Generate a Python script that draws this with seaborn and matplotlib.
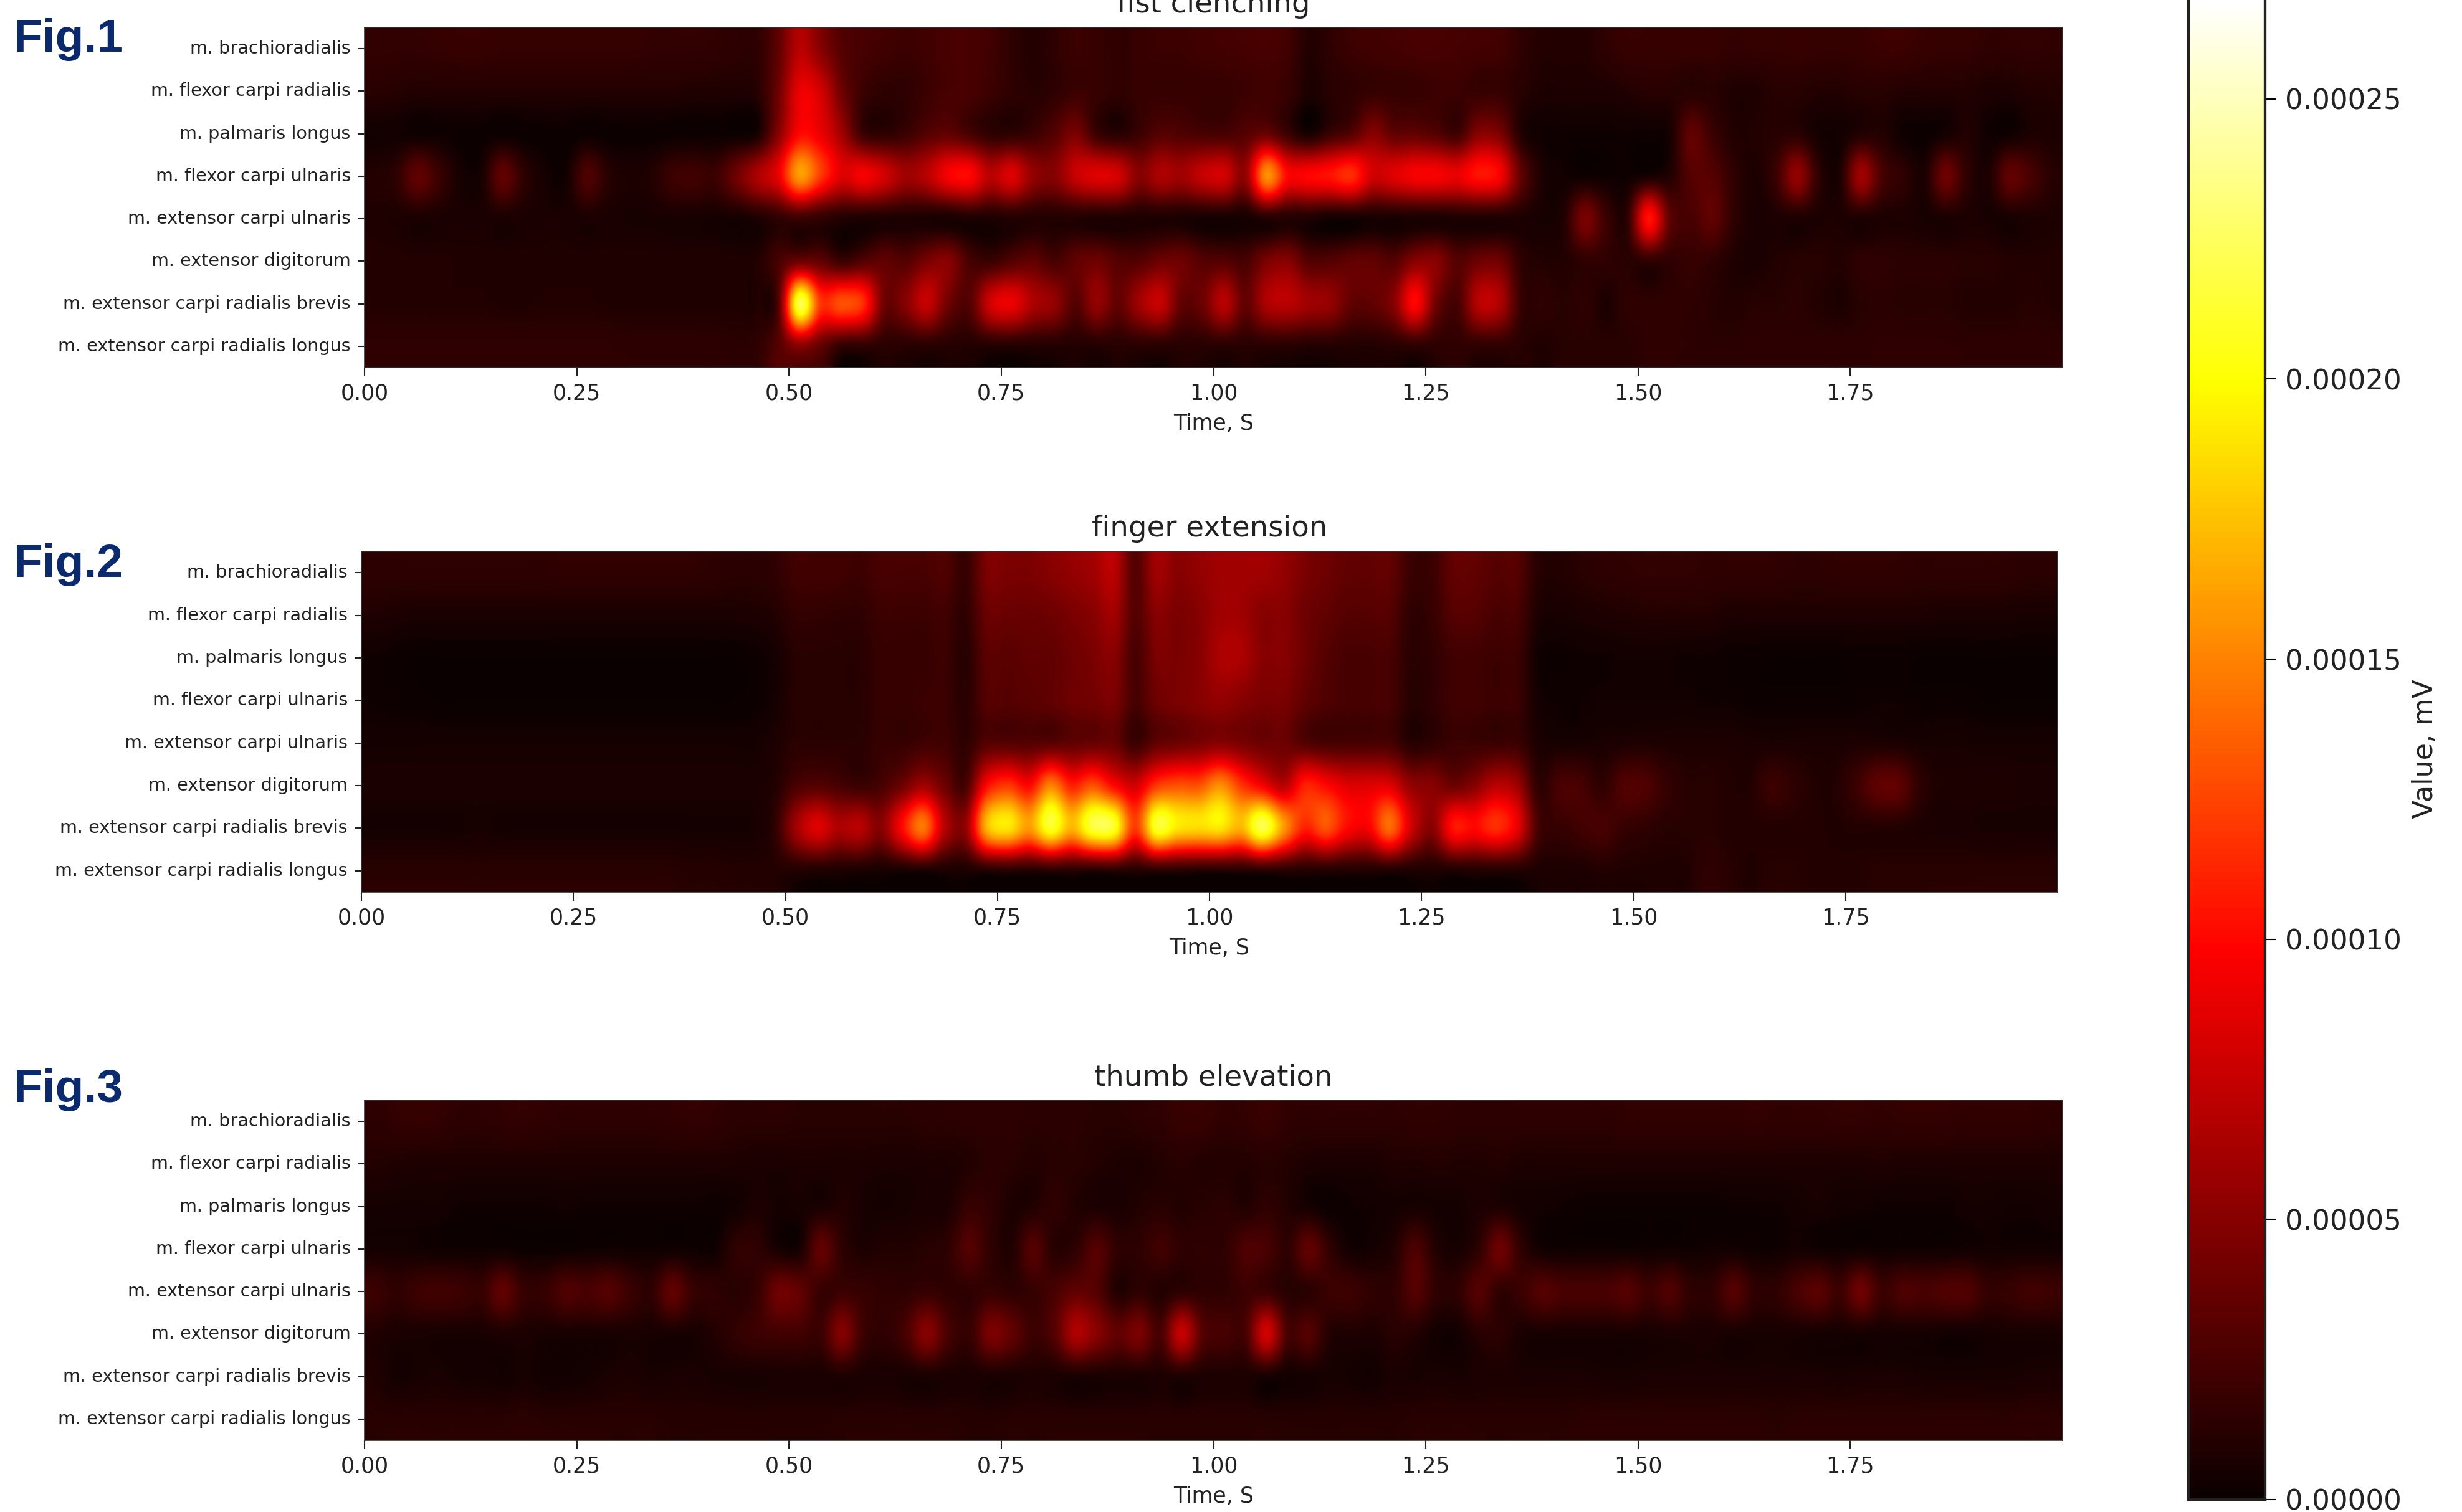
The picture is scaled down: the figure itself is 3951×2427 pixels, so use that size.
import numpy as np
import pandas as pd
import matplotlib
matplotlib.use("Agg")
import matplotlib.pyplot as plt
import seaborn as sns

W, H = 3951, 2427
UNIT = 1e-5  # values below are written in units of 1e-5 mV
VMAX = 26.8
muscles = ["m. brachioradialis", "m. flexor carpi radialis", "m. palmaris longus",
           "m. flexor carpi ulnaris", "m. extensor carpi ulnaris", "m. extensor digitorum",
           "m. extensor carpi radialis brevis", "m. extensor carpi radialis longus"]
time_ticks = ["0.00", "0.25", "0.50", "0.75", "1.00", "1.25", "1.50", "1.75"]
cbar_ticks = [0.00000, 0.00005, 0.00010, 0.00015, 0.00020, 0.00025]
cbar_labels = ["0.00000", "0.00005", "0.00010", "0.00015", "0.00020", "0.00025"]
titles = ["fist clenching", "finger extension", "thumb elevation"]
fig_labels = ["Fig.1", "Fig.2", "Fig.3"]

fist = [
 [1.6,1.6,1.6,1.7,1.8,1.8,1.7,1.7,1.7,1.7, 1.7,1.7,1.7,1.6,1.6,1.6,1.5,1.4,1.5,3.5, 7,5,3,2.5,2.2,2,2.2,2.5,2.5,2.2, 1.5,1,1.5,2,1.8,1.5,1.8,2,2,2.2, 2.3,2.4,2.5,2.2,1,1.5,2,2.2,2.3,2.5, 2.5,2.4,2.3,2.2,1.5,1,1,1,1.5,1.8, 1.8,1.8,1.8,1.8,1.6,1.7,1.7,1.8,1.7,1.7, 1.8,2,2,1.8,1.7,1.7,1.5,1.5,1.6,1.5],
 [1.2,1.1,1,1,1,1,1,1,1,1, 1,1,1,1,1,.9,.9,.9,1.2,4, 9,8,4,2,1.5,1.5,2,2.5,2.5,2, 1.5,1.2,1.5,2,1.8,1.5,1.8,1.8,1.8,1.8, 1.8,2,2.2,1.8,.8,1.2,1.5,1.8,1.8,1.8, 2,2,1.8,1.8,1.2,.8,.8,.8,.8,1, 1.2,1.2,1.2,1.2,.9,.9,1.2,1.2,1,1, 1.2,1.2,1,1,1,1,.8,.8,1,1],
 [.4,.4,.3,.3,.2,.2,.2,.2,.2,.2, .2,.2,.2,.2,.2,.2,.2,.2,.6,5, 10,9,6,2,1.5,2,3,3.5,2.5,1.5, 1.5,2,3,4.5,2,1.2,2,3,2.8,2.5, 2.5,3,3.8,2,.6,2,3,5,3.5,3.5, 3,2.2,5,4.5,1,.3,.3,.3,.3,.3, .3,.6,3.5,2,1,1,1.2,1.3,.5,.4, 1,1,.3,.2,.5,1,.3,.3,.8,.8],
 [1,1.5,3.5,2,.6,.6,3.5,1.5,.5,.4, 2.8,1.2,.8,1,2,2.2,2,4,6.5,9, 16,12,8.5,9.5,8,6,7,9.5,10,7, 8.5,5.5,5,7.5,8.5,8,5,6.5,6,7.5, 8,5.5,15.5,10,10,10.5,11.5,8,8.5,9.5, 9.5,9,10.5,9.5,3.5,.8,.4,.3,.3,.3, .6,1,3,3,1.5,.8,2,5.5,1.5,.8, 6,2.5,1.5,.8,4,1.5,.8,3.5,2.5,1.2],
 [.9,.8,.7,.7,.7,.7,.7,.7,.7,.7, .7,.7,.6,.6,.6,.6,.5,.5,.8,1.5, 2,1.5,1,.8,.8,.8,.7,.6,.8,.8, 1,1,1,1,.8,.8,.8,.8,.7,.5, .5,.5,1,1,.8,.4,.4,.6,.6,.7, .7,.8,.8,.8,.8,.6,1,4.5,2,1.5, 10.5,3.5,2.5,3.5,1.5,.7,.8,.8,.8,.8, .8,.8,.8,.6,.7,.8,.6,.6,.8,.8],
 [1,1,1,1,.9,.9,.9,.9,.9,.9, .9,.9,.9,.9,.9,.9,.9,.9,1,2.5, 4,3.5,2,3,3.5,3,4.5,5,2.5,2, 3,3.5,2.5,3.5,4,3,3,4,4,3, 3,2.5,4.5,5,3,3,3.5,3.5,3,5, 5,3,4,4,1.5,1,1,1.5,1.5,1.2, 1.5,1.5,1.8,1.5,.9,.7,1,1.2,1.2,1, 1.5,1.5,1.3,1.3,1.3,1.2,1.2,1,1,1],
 [1,1,1,1,1,1,.9,.9,1,1, 1,.9,.9,.9,.9,.9,.9,.9,1,3, 22,12,13,11.5,4,5,7.5,4,3,8, 9,6.5,5.5,3,5.5,3.5,6,7.5,3.5,4, 7,3.5,6.5,7,6,5.5,3.5,3.5,5,10, 4,2.5,7,6.5,1.8,1.5,1.2,1.5,.8,1.5, 1.5,1.5,1.5,1.2,1,1.2,1.2,1.3,1,.8, 1.2,1.3,1.2,1.2,1.2,1,1,1,1.2,1],
 [1.5,1.5,1.5,1.5,1.5,1.5,1.5,1.5,1.5,1.5, 1.5,1.5,1.4,1.4,1.4,1.4,1.4,1.3,1.5,3, 5,3.5,1.6,1.5,1.3,1.2,1.2,1.1,1,1, 1,1,1,1,1,1.2,1.2,1.2,1.2,1.2, 1.2,1.2,1.2,1.2,1,1,1,1,1.2,1.4, 1.4,1.5,1.5,1.5,1.2,.9,1.2,1.2,1.2,1.2, 1.5,1.5,1.4,1.3,1.3,1.4,1.4,1.4,1.4,1.4, 1.4,1.5,1.5,1.5,1.5,1.4,1.4,1.4,1.4,1.4],
]

finger = [
 [1.4,1.4,1.4,1.4,1.4,1.4,1.4,1.4,1.4,1.5, 1.5,1.5,1.5,1.5,1.5,1.5,1.4,1.3,1.3,1.5, 2.2,2.2,2.2,2,2.5,2.5,2.5,2.8,1.8,4.5, 4.5,4.5,5,5.5,6,7,3,6,5,5.5, 6,6,6,5.5,4.5,4,3.5,3.5,3.5,2, 2,3.5,3.5,3,3,1.2,1,1.2,1.4,1.5, 1.6,1.6,1.6,1.5,1.5,1.5,1.5,1.4,1.4,1.5, 1.5,1.5,1.5,1.4,1.4,1.4,1.4,1.4,1.3,1.3],
 [.9,.8,.7,.7,.7,.7,.7,.7,.7,.7, .7,.7,.7,.7,.7,.7,.7,.7,.8,1, 1.6,1.6,1.5,1.5,2,2,2,2.2,1.5,3.8, 3.8,3.8,4,4.5,5,6,3,5,4.5,5, 6,6,5,5,4,3.5,3,3,3,1.5, 1.8,3,3,2.5,2.5,.8,.6,.7,.8,.9, 1,1,1,1,.8,.8,.8,.8,.8,.8, .8,.8,.8,.8,.7,.7,.7,.7,.6,.6],
 [.3,.2,.1,.1,.1,.1,.1,.1,.1,.1, .1,.1,.1,.1,.1,.1,.1,.1,.2,.5, 1.2,1.2,1.2,1.2,1.8,1.8,1.8,2,1.2,3.2, 3.2,3.5,3.5,4,4.5,5,2.5,4.5,4.5,5, 6.5,6.5,5,5,4,3,2.5,2.5,2.5,1.3, 1.5,2.2,2.2,2,2,.4,.2,.3,.3,.4, .4,.4,.3,.3,.2,.2,.1,.1,.1,.1, .2,.2,.2,.1,.1,.1,.1,.1,.1,.1],
 [.3,.2,.2,.1,.1,.1,.1,.1,.1,.1, .1,.1,.1,.1,.1,.1,.1,.1,.2,.5, 1.2,1.2,1.2,1.2,1.8,1.8,2,2,1.3,3, 3,3.2,3.5,4,4.2,4.5,2.5,4,4.5,5, 5.5,5,4.5,4.5,3.5,2.8,2.5,2.5,2.5,1.2, 1.5,2.2,2.2,2,2,.5,.3,.3,.4,.4, .4,.4,.4,.3,.3,.2,.2,.2,.2,.2, .2,.3,.3,.2,.2,.2,.1,.1,.1,.1],
 [.5,.5,.5,.5,.5,.5,.5,.5,.5,.5, .5,.5,.5,.5,.5,.5,.5,.5,.5,.8, 1.3,1.3,1.3,1.3,1.8,1.8,2.2,2.2,1.5,3, 3,3,3.2,3.5,3.8,3.8,2,3.5,4,4.5, 5,4.5,4,4,3,2.5,2.5,2.5,2.5,1.2, 1.5,2,2,2,2,.8,.6,.6,.7,.8, .9,.8,.8,.8,.8,.7,.7,.7,.7,.7, .8,.8,.7,.6,.6,.6,.5,.5,.5,.5],
 [.7,.7,.7,.7,.7,.7,.7,.7,.7,.7, .7,.7,.7,.7,.7,.7,.7,.7,.7,1, 2.5,3,2.5,2,2.5,4,6,4,2.5,10, 12,10,15,11,13,10,8,12,13,13, 15.5,12,9.5,7,11,10,8.5,8.5,8.5,5.5, 5,4,5,7,6,1.5,2.5,2.5,1.5,2.8, 2.8,1.8,1.2,1.2,1,1,2,1.5,1,1, 2,3.4,3.4,1.5,.8,.8,.8,.8,.7,.7],
 [.5,.5,.5,.5,.5,.6,.5,.5,.5,.5, .5,.5,.5,.5,.5,.5,.5,.5,.6,1.5, 6,8.5,6.5,7,5,10,14.5,7,5.5,17, 19,16,21,17,21.5,21,12,21,19,18.5, 19,17,22,16,11,13,10,9.5,14,8, 5,10.5,10,11.5,9,2.5,1.8,2.2,2.5,1.8, 1.5,1.2,1.2,1.2,1,1,1,1,1,.9, 1,1,1,.8,.7,.7,.6,.6,.6,.6],
 [1.2,1.2,1.2,1.2,1.2,1.2,1.2,1.2,1.2,1.2, 1.2,1.2,1.2,1.2,1.2,1.1,1.1,1,1,1, 1,.9,.8,.7,.6,.6,.7,.7,.7,1, 1.2,1,1.2,1.2,1,1.2,1,1.2,1.2,1, 1,1,1.2,1.2,1,1,.9,.9,.9,.8, .8,.8,1,1,1,.8,.8,.8,1,.9, .9,.9,.9,1.5,1.2,.9,1.2,1.2,1,1, 1,1.2,1.2,1.2,1.2,1.2,1.2,1.2,1.2,1.2],
]

thumb = [
 [1.4,1.6,1.7,1.6,1.4,1.4,1.5,1.6,1.5,1.4, 1.4,1.4,1.4,1.4,1.5,1.6,1.5,1.3,1.3,1.3, 1.2,1.2,1.2,1.2,1.2,1.2,1.3,1.3,1.4,1.4, 1.4,1.3,1.3,1.3,1.2,1.2,1.3,1.5,1.8,1.8, 1.5,1.6,1.9,1.5,1.4,1.4,1.4,1.4,1.4,1.5, 1.5,1.4,1.4,1.4,1.4,1.4,1.4,1.4,1.4,1.5, 1.5,1.5,1.5,1.5,1.5,1.6,1.5,1.5,1.5,1.6, 1.6,1.5,1.6,1.6,1.6,1.5,1.5,1.5,1.5,1.4],
 [1,.9,.8,.8,.8,.8,.8,.8,.8,.8, .8,.8,.8,.8,.8,.8,.8,.8,.7,.7, .8,.8,.8,.8,.7,.7,.8,.8,1,1.3, 1.2,1,1.2,1.2,1,.8,.8,1,1.2,1, 1,1,1.2,1,.8,.7,.7,.7,.9,.9, 1,.9,.9,1,.8,.8,.8,.8,.8,.8, .8,.8,.8,.8,.8,.8,.8,.8,.8,.8, .8,.9,.8,.8,.8,.8,.8,.8,.8,.8],
 [.5,.5,.5,.5,.3,.3,.3,.3,.3,.4, .3,.3,.3,.3,.3,.3,.2,.4,.8,.5, .6,.7,1,.6,.5,.6,.7,.8,1.8,1.5, .8,1,1.5,1,.8,.7,1,1.2,1,1.2, 1.3,1,1.5,1,.5,.2,.3,.4,.5,.6, .5,.5,.8,.8,.5,.4,.3,.2,.2,.2, .2,.2,.2,.2,.3,.3,.3,.5,.6,.4, .4,.3,.3,.3,.3,.5,.5,.4,.4,.5],
 [.5,.5,.4,.3,.3,.3,.3,.2,.2,.2, .3,.3,.3,.3,.3,.3,.3,1.5,1.5,.6, .6,3.5,1.5,.8,1,1,1.2,1.5,3,1.5, 1,3,1.2,1.5,3,1.5,1.5,2.2,1.5,1.5, 1.5,2.7,2.5,1.5,3.5,1.5,.4,.5,1,2.7, 1,.6,1.5,4,1.5,.4,.3,.3,.3,.3, .3,.3,.3,.4,.4,.3,.3,.5,.3,.3, .3,.3,.3,.3,.3,.4,.4,.4,.4,.4],
 [2,1.5,2,2.2,2,1.8,3.5,1.8,1.8,2.8, 2.5,3,2,1.5,3.5,1.8,1.5,1.2,1.8,4, 3.5,1.8,2,1.8,1.5,1.5,1.8,1.5,1.5,1.8, 1.5,1.8,2.5,3.5,3,1,1.5,1,1.5,1.5, 1.5,2,2,1.2,1.3,2,2,1.5,1.5,3, 1.5,1.5,3,1.5,2,3,2.5,2.5,2.5,3, 2,2.8,1.5,1.5,3,1.5,1.5,2.5,3.2,2, 4,2,2.7,2.5,2.8,2.8,1.7,1.8,2.2,2],
 [.9,.7,.7,.6,.6,.6,.8,.8,.6,.6, .6,.6,.7,.6,.6,.6,1,1.6,2,2.2, 2.2,2,4.8,2,1.5,2.5,5,2.5,1.8,4.5, 3.5,2,3,6.5,5,3.5,4.5,2.5,7.5,3, 2.5,2.5,8,2.5,3,1,.9,.8,1.2,1, .4,.4,1.2,1.3,.7,.6,.6,.6,.6,.6, .6,.7,.7,.7,.6,.6,.6,.6,.5,.5, .5,.5,.5,.5,.4,.4,.5,.6,.6,.6],
 [.9,.5,.6,.7,.5,.5,.4,.6,.4,.4, .5,.7,.8,.6,.7,.7,.6,.6,.6,.7, .7,.7,.8,.7,.7,.6,.7,.7,.7,.7, .7,.8,.7,.7,.7,.7,.7,.8,.8,.8, .8,.8,.6,.4,.5,.6,.5,.4,.7,.6, .7,.6,.7,.8,.7,.7,.7,.7,.6,.6, .7,.7,.7,.7,.7,.7,.7,.7,.7,.6, .7,.7,.7,.6,.6,.6,.6,.6,.7,.7],
 [1.2,1.2,1.2,1.2,1.2,1.2,1.2,1.3,1.2,1.2, 1.2,1.2,1.2,1.2,1.1,1.1,1.1,1.1,1.1,1.1, 1.1,1.1,1.2,1.2,1.2,1.2,1.2,1.2,1.1,1.1, 1.2,1.2,1.2,1.2,1.2,1.2,1.2,1.2,1.2,1.2, 1.2,1.2,1.2,1.1,1.1,1.1,1.1,1.1,1.1,1.2, 1.2,1.2,1.2,1.2,1.2,1.2,1.2,1.3,1.3,1.3, 1.3,1.3,1.3,1.3,1.3,1.3,1.2,1.3,1.3,1.3, 1.3,1.3,1.3,1.3,1.3,1.3,1.3,1.3,1.4,1.3],
]
panels = [fist, finger, thumb]

# layout in pixels: left, top, right, bottom
boxes = [(585, 44, 3310, 590), (580, 885, 3302, 1432), (585, 1766, 3310, 2312)]
fig_label_y = [64, 906, 1750]
NAVY = "#0b2a6e"

def to_rect(l, t, r, b):
    return [l / W, 1 - b / H, (r - l) / W, (b - t) / H]

fig = plt.figure(figsize=(W / 100, H / 100), dpi=100, facecolor="white")
cax = fig.add_axes(to_rect(3512, -3, 3635, 2407))

for idx, (vals, box, title) in enumerate(zip(panels, boxes, titles)):
    ax = fig.add_axes(to_rect(*box))
    n_cols = len(vals[0])
    df = pd.DataFrame(np.array(vals) * UNIT, index=muscles)
    sns.heatmap(df, ax=ax, cmap="hot", vmin=0, vmax=VMAX * UNIT,
                cbar=idx == 0, cbar_ax=cax if idx == 0 else None,
                xticklabels=False, yticklabels=muscles)
    # smooth rendering of the same cells, over the mesh seaborn drew
    ax.imshow(df.values, cmap="hot", vmin=0, vmax=VMAX * UNIT, aspect="auto",
              interpolation="catrom", extent=(0, n_cols, len(muscles), 0), zorder=2)
    ax.set_xticks(np.arange(0, n_cols, 10))
    ax.set_xticklabels(time_ticks, rotation=0, fontsize=25)
    ax.set_yticks(np.arange(len(muscles)) + 0.5)
    ax.set_yticklabels(muscles, rotation=0, fontsize=20.6, color="#222222")
    ax.tick_params(axis="x", length=10, width=1.5, pad=8, colors="#222222")
    ax.tick_params(axis="y", length=8, width=1.5, pad=8, colors="#222222")
    ax.set_xlabel("Time, S", fontsize=25, labelpad=10, color="#222222")
    ax.set_ylabel("")
    ax.set_title(title, fontsize=33.5, pad=17, color="#222222")
    for s in ax.spines.values():
        s.set_visible(True)
        s.set_linewidth(1.2)
        s.set_color("#333333")
        s.set_zorder(3)
    fig.text(22 / W, 1 - fig_label_y[idx] / H, fig_labels[idx], family="Liberation Sans",
             fontweight="bold", fontsize=54, color=NAVY, ha="left", va="center")

cax.set_yticks(cbar_ticks)
cax.set_yticklabels(cbar_labels, fontsize=32.5, color="#222222")
cax.tick_params(axis="y", length=12, width=1.5, pad=11)
cax.set_ylabel("Value, mV", fontsize=32, labelpad=12, color="#222222")
for s in cax.spines.values():
    s.set_visible(True)
    s.set_linewidth(3)
    s.set_color("#222222")

fig.savefig("out.png", dpi=100, facecolor="white")
